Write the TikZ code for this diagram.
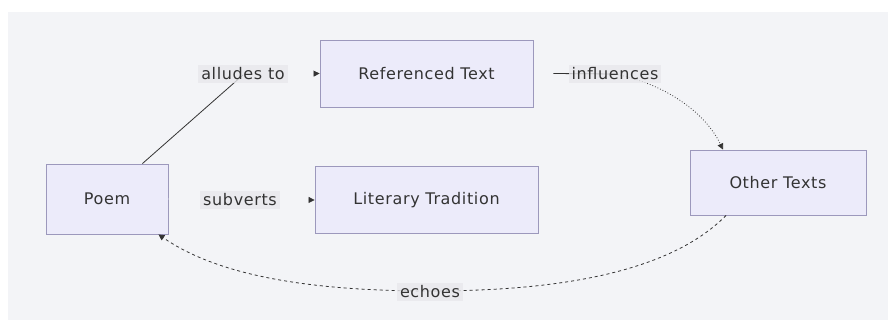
\documentclass[tikz,border=0pt]{standalone}
\usepackage{fontspec}
\setmainfont[LetterSpace=4]{DejaVu Sans}
\usetikzlibrary{arrows.meta}
\definecolor{bgc}{HTML}{F3F4F7}
\definecolor{nodefill}{HTML}{ECEBFA}
\definecolor{nodeline}{HTML}{9C98BC}
\definecolor{labfill}{HTML}{E8E8EC}
\definecolor{ink}{HTML}{333333}
\tikzset{
  box/.style={draw=nodeline, fill=nodefill, line width=0.9pt, inner sep=0pt, font=\fontsize{16}{19}\selectfont, text=ink},
  elabel/.style={fill=labfill, fill opacity=0.8, text opacity=1, inner sep=3pt, font=\fontsize{16}{19}\selectfont, text=ink},
  edge/.style={draw=ink, line width=0.8pt},
  faint/.style={draw=bgc, line width=0.8pt},
  tip/.style={-{Triangle[length=6pt,width=6pt,color=ink]}}
}
\begin{document}
\begin{tikzpicture}[x=1pt,y=-1pt]
\useasboundingbox (0,0) rectangle (895,324);
\fill[white] (0,0) rectangle (895,324);
\fill[bgc] (8,12) rectangle (888,320);

\node[box, minimum width=122pt, minimum height=70pt] (poem) at (107,199) {Poem};
\node[box, minimum width=213pt, minimum height=67pt] (ref) at (426.5,73.5) {Referenced Text};
\node[box, minimum width=223pt, minimum height=67pt] (lit) at (426.5,200) {Literary Tradition};
\node[box, minimum width=176pt, minimum height=65pt] (other) at (778,182.5) {Other Texts};

% alludes to
\coordinate (a1) at (243,75);
\draw[edge] (poem.north east) ++(-26,0) -- (a1);
\draw[faint, tip] (a1) -- (ref.west);
\node[elabel] (lalludes) at (243,74) {alludes to};

% subverts
\draw[faint, tip] (poem.east) -- (lit.west);
\node[elabel] (lsubverts) at (240,200) {subverts};

% influences
\coordinate (i1) at (615,74);
\draw[edge] (ref.east) ++(20,0) -- (i1);
\draw[edge, dotted, tip] (i1) .. controls (665,84) and (705,112) .. ([xshift=-55pt]other.north);
\node[elabel] (linfl) at (615,74) {influences};

% echoes
\coordinate (e1) at (430,291);
\draw[edge, dashed, tip] ([xshift=-52pt]other.south) .. controls (680,262) and (590,291) .. (e1)
   .. controls (290,291) and (210,270) .. ([xshift=-10pt]poem.south east);
\node[elabel] (lechoes) at (430,292) {echoes};
\end{tikzpicture}
\end{document}
